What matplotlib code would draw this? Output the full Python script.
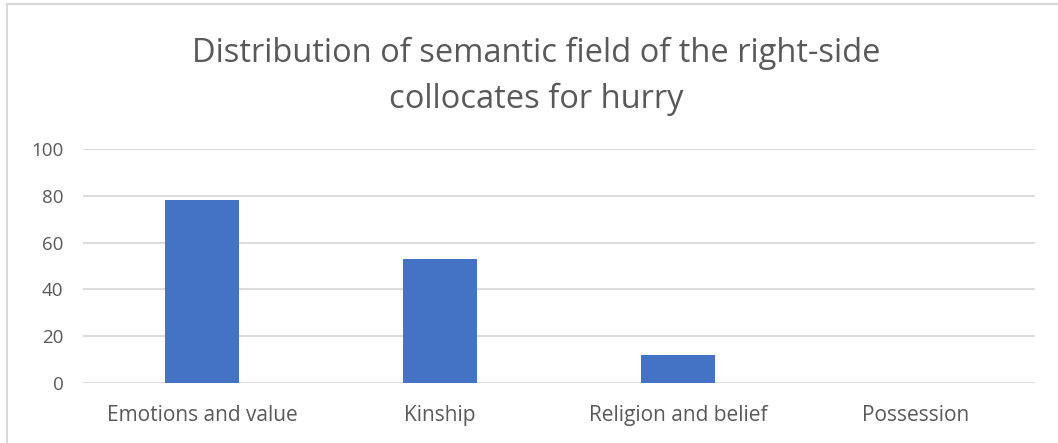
import numpy as np
import matplotlib.pyplot as plt
from matplotlib.patches import Rectangle

# semantic field counts
categories = ["Emotions and value", "Kinship", "Religion and belief", "Possession"]
counts = [78, 53, 12, 0]
yticks = [0, 20, 40, 60, 80, 100]

bar_color = "#4472C4"
text_color = "#595959"
grid_color = "#D9D9D9"

plt.rcParams['font.family'] = ['Open Sans', 'DejaVu Sans']

fig = plt.figure(figsize=(10.58, 4.43), dpi=100)
ax = fig.add_axes([83/1058, 1 - 383/443, (1035-83)/1058, (383-149)/443])

x = np.arange(len(categories))
ax.bar(x, counts, width=0.31, color=bar_color, zorder=3)

ax.set_xlim(-0.5, len(categories) - 0.5)
ax.set_ylim(0, 100)
ax.set_yticks(yticks)
ax.set_xticks(x)
ax.set_xticklabels(categories)
ax.yaxis.grid(True, color=grid_color, linewidth=1.3, zorder=0)
ax.tick_params(axis='x', length=0, labelsize=15, colors=text_color, pad=16)
ax.tick_params(axis='y', length=0, labelsize=13.5, colors=text_color, pad=14)
for s in ax.spines.values():
    s.set_visible(False)

fig.text(0.507, 1 - 53/443, "Distribution of semantic field of the right-side",
         ha='center', va='center', fontsize=23.5, color=text_color)
fig.text(0.507, 1 - 99/443, "collocates for hurry",
         ha='center', va='center', fontsize=23.5, color=text_color)

# chart area frame (top and left edges visible)
fig.add_artist(Rectangle((7/1058, -0.1), 1.2, 1 - 4/443 + 0.1, transform=fig.transFigure,
                         fill=False, edgecolor=grid_color, linewidth=1.5))

fig.savefig("out.png", dpi=100, facecolor="white")
